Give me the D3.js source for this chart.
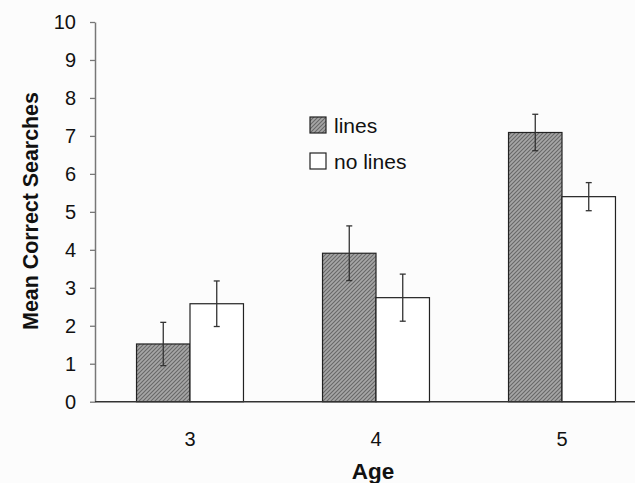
<!DOCTYPE html>
<html>
<head>
<meta charset="utf-8">
<script src="https://cdn.jsdelivr.net/npm/d3@7"></script>
<style>
  body { margin: 0; background: #fcfcfc; }
  text { font-family: "Liberation Sans", Arial, sans-serif; fill: #111; }
</style>
</head>
<body>
<div id="chart"></div>
<script>
// data
var ages = ["3", "4", "5"];
var seriesNames = ["lines", "no lines"];
var linesMean = [1.52, 3.91, 7.09];
var linesErr = [0.57, 0.72, 0.48];
var noLinesMean = [2.58, 2.74, 5.40];
var noLinesErr = [0.60, 0.62, 0.37];
var yTicks = [0, 1, 2, 3, 4, 5, 6, 7, 8, 9, 10];

var svgWidth = 635;
var svgHeight = 483;

var svg = d3.select("#chart")
  .append("svg")
  .attr("width", svgWidth)
  .attr("height", svgHeight);

// grey hatch fill for the "lines" bars
var defs = svg.append("defs");
var pat = defs.append("pattern")
  .attr("id", "hatch")
  .attr("patternUnits", "userSpaceOnUse")
  .attr("width", 4)
  .attr("height", 4);
pat.append("rect").attr("width", 4).attr("height", 4).attr("fill", "#a6a6a6");
pat.append("path")
  .attr("d", "M-1,1 l2,-2 M0,4 l4,-4 M3,5 l2,-2")
  .attr("stroke", "#676767")
  .attr("stroke-width", 1.1);

// scales
var xScale = d3.scaleBand()
  .domain(ages)
  .range([97, 655])
  .paddingInner(0.425)
  .paddingOuter(0.2125);

var xSub = d3.scaleBand()
  .domain(seriesNames)
  .range([0, xScale.bandwidth()]);

var yScale = d3.scaleLinear()
  .domain([0, 10])
  .range([401.7, 22]);

// rows built from the arrays
var rows = [];
ages.forEach(function(a, i) {
  rows.push({ age: a, series: "lines", mean: linesMean[i], err: linesErr[i] });
  rows.push({ age: a, series: "no lines", mean: noLinesMean[i], err: noLinesErr[i] });
});

// bars
svg.selectAll("rect.bar")
  .data(rows)
  .enter()
  .append("rect")
  .attr("class", "bar")
  .attr("x", d => xScale(d.age) + xSub(d.series))
  .attr("y", d => yScale(d.mean))
  .attr("width", xSub.bandwidth())
  .attr("height", d => yScale(0) - yScale(d.mean))
  .attr("fill", d => d.series == "lines" ? "url(#hatch)" : "#ffffff")
  .attr("stroke", "#222")
  .attr("stroke-width", 1.2);

// error bars
var errG = svg.selectAll("g.err")
  .data(rows)
  .enter()
  .append("g")
  .attr("class", "err")
  .attr("stroke", "#333")
  .attr("stroke-width", 1.3);

errG.append("line")
  .attr("x1", d => xScale(d.age) + xSub(d.series) + xSub.bandwidth() / 2)
  .attr("x2", d => xScale(d.age) + xSub(d.series) + xSub.bandwidth() / 2)
  .attr("y1", d => yScale(d.mean + d.err))
  .attr("y2", d => yScale(d.mean - d.err));

[1, -1].forEach(function(s) {
  errG.append("line")
    .attr("x1", d => xScale(d.age) + xSub(d.series) + xSub.bandwidth() / 2 - 3)
    .attr("x2", d => xScale(d.age) + xSub(d.series) + xSub.bandwidth() / 2 + 3)
    .attr("y1", d => yScale(d.mean + s * d.err))
    .attr("y2", d => yScale(d.mean + s * d.err));
});

// y axis
var leftAxis = d3.axisLeft(yScale)
  .tickValues(yTicks)
  .tickSize(5)
  .tickPadding(14)
  .tickSizeOuter(0);

var yAxisG = svg.append("g")
  .attr("transform", "translate(95, 0)")
  .call(leftAxis);
yAxisG.select(".domain").attr("stroke", "#777").attr("stroke-width", 1.5);
yAxisG.selectAll(".tick line").attr("stroke", "#777").attr("stroke-width", 1.3);
yAxisG.selectAll(".tick text")
  .style("font-size", "20px")
  .style("font-family", "Liberation Sans, Arial, sans-serif")
  .attr("fill", "#111");

// x axis
var bottomAxis = d3.axisBottom(xScale)
  .tickSize(0)
  .tickPadding(30)
  .tickSizeOuter(0);

var xAxisG = svg.append("g")
  .attr("transform", "translate(0, 401.7)")
  .call(bottomAxis);
xAxisG.select(".domain")
  .attr("d", "M95,0H660")
  .attr("stroke", "#333")
  .attr("stroke-width", 1.5);
xAxisG.selectAll(".tick text")
  .style("font-size", "20px")
  .style("font-family", "Liberation Sans, Arial, sans-serif")
  .attr("fill", "#111");

// legend
var legend = svg.append("g").attr("transform", "translate(310, 117)");
var legItems = legend.selectAll("g")
  .data(seriesNames)
  .enter()
  .append("g")
  .attr("transform", (d, i) => `translate(0, ${i * 36})`);
legItems.append("rect")
  .attr("width", 16)
  .attr("height", 16)
  .attr("fill", d => d == "lines" ? "url(#hatch)" : "#ffffff")
  .attr("stroke", "#222")
  .attr("stroke-width", 1.2);
legItems.append("text")
  .attr("x", 24)
  .attr("y", 15.5)
  .style("font-size", "21px")
  .text(d => d);

// axis titles
svg.append("text")
  .attr("transform", "translate(38, 211) rotate(-90)")
  .style("text-anchor", "middle")
  .style("font-size", "21.4px")
  .style("font-weight", "bold")
  .text("Mean Correct Searches");

svg.append("text")
  .attr("x", 373)
  .attr("y", 479)
  .style("text-anchor", "middle")
  .style("font-size", "22.5px")
  .style("font-weight", "bold")
  .text("Age");
</script>
</body>
</html>
